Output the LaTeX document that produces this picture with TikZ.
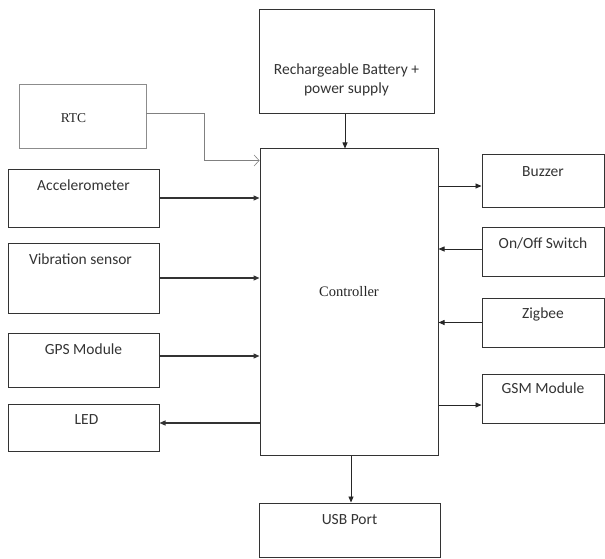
\documentclass[tikz,border=0pt]{standalone}
\usepackage{fontspec}
\setmainfont{Carlito}
\newfontfamily\serifface{Liberation Serif}
\usetikzlibrary{arrows.meta}
\begin{document}
\begin{tikzpicture}[x=1pt,y=-1pt,
  box/.style={draw=black!80, line width=1pt, inner sep=0pt, text=black!80},
  gbox/.style={draw=black!45, line width=0.8pt, inner sep=0pt},
  txt/.style={font=\fontsize{15.5}{18.5}\selectfont, text=black!80},
  arr/.style={line width=1.3pt, draw=black!80, -{Triangle[length=6pt,width=5pt]}},
  tarr/.style={line width=0.8pt, draw=black!85, -{Triangle[length=6pt,width=5pt]}},
  rarr/.style={line width=0.6pt, draw=black!50, -{Straight Barb[length=5pt,width=11pt,line width=0.6pt]}}]
\useasboundingbox (0,0) rectangle (605,559);
% boxes
\node[box, minimum width=175pt, minimum height=104pt,
  label={[txt,align=center,yshift=-18pt]center:Rechargeable Battery +\\power supply}] (batt) at (346.5,62) {};
\node[gbox, minimum width=127pt, minimum height=64pt,
  label={[font=\serifface\fontsize{13.5}{15}\selectfont, text=black!85, xshift=-9pt, yshift=-2pt]center:RTC}] (rtc) at (82.5,116) {};
\node[box, minimum width=178pt, minimum height=306pt,
  label={[font=\serifface\fontsize{14.5}{16}\selectfont, text=black!85, yshift=10pt]center:Controller}] (ctrl) at (349,302) {};
\node[box, minimum width=151pt, minimum height=58pt,
  label={[txt,anchor=center,yshift=-17pt]north:Accelerometer}] (accel) at (83.5,198) {};
\node[box, minimum width=151pt, minimum height=70pt,
  label={[txt,anchor=center,xshift=-3pt,yshift=-17pt]north:Vibration sensor}] (vib) at (83.5,278) {};
\node[box, minimum width=151pt, minimum height=54pt,
  label={[txt,anchor=center,yshift=-17pt]north:GPS Module}] (gps) at (83.5,360) {};
\node[box, minimum width=151pt, minimum height=47pt,
  label={[txt,anchor=center,xshift=3pt,yshift=-16pt]north:LED}] (led) at (83.5,427.5) {};
\node[box, minimum width=122pt, minimum height=52pt,
  label={[txt,anchor=center,yshift=-17pt]north:Buzzer}] (buzz) at (543,181) {};
\node[box, minimum width=122pt, minimum height=49pt,
  label={[txt,anchor=center,yshift=-17pt]north:On/Off Switch}] (onoff) at (543,251.5) {};
\node[box, minimum width=122pt, minimum height=49pt,
  label={[txt,anchor=center,yshift=-17pt]north:Zigbee}] (zig) at (543,322.5) {};
\node[box, minimum width=122pt, minimum height=49pt,
  label={[txt,anchor=center,yshift=-15pt]north:GSM Module}] (gsm) at (543,398.5) {};
\node[box, minimum width=181pt, minimum height=54pt,
  label={[txt,anchor=center,yshift=-17pt]north:USB Port}] (usb) at (349.5,530) {};
% connectors
\draw[tarr] ([xshift=-1.5pt]batt.south) -- ([xshift=-1.5pt]batt.south |- ctrl.north);
\draw[rarr] ([yshift=3pt]rtc.east) -- ++(58,0) |- ([yshift=-12pt]ctrl.north west);
\draw[arr] (accel.east) -- (accel.east -| ctrl.west);
\draw[arr] (vib.east) -- (vib.east -| ctrl.west);
\draw[arr] ([yshift=4pt]gps.east) -- ([yshift=4pt]gps.east -| ctrl.west);
\draw[arr] ([yshift=4.5pt]led.east -| ctrl.west) -- ([yshift=4.5pt]led.east);
\draw[tarr] ([yshift=-5pt]buzz.west -| ctrl.east) -- ([yshift=-5pt]buzz.west);
\draw[tarr] ([yshift=2.5pt]onoff.west) -- ([yshift=2.5pt]onoff.west -| ctrl.east);
\draw[tarr] (zig.west) -- (zig.west -| ctrl.east);
\draw[tarr] ([yshift=-6.5pt]gsm.west -| ctrl.east) -- ([yshift=-6.5pt]gsm.west);
\draw[tarr] ([xshift=2pt]ctrl.south) -- ([xshift=2pt]ctrl.south |- usb.north);
\end{tikzpicture}
\end{document}
